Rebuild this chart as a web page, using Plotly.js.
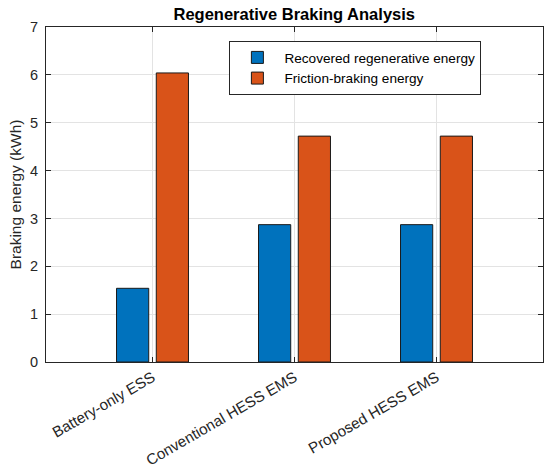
<!DOCTYPE html>
<html>
<head>
<meta charset="utf-8">
<script src="https://cdn.plot.ly/plotly-3.0.1.min.js"></script>
<style>html,body{margin:0;padding:0;background:#fff;}#chart{width:550px;height:473px;}</style>
</head>
<body>
<div id="chart"></div>
<script>
var categories = ["Battery-only ESS", "Conventional HESS EMS", "Proposed HESS EMS"];
var recovered = [1.54, 2.87, 2.87];
var friction = [6.04, 4.72, 4.72];
var seriesNames = ["Recovered regenerative energy", "Friction-braking energy"];
var yTicks = [0, 1, 2, 3, 4, 5, 6, 7];

var font = "Liberation Sans, Arial, Helvetica, sans-serif";
var traces = [
  {type: "bar", x: categories, y: recovered, name: seriesNames[0],
   marker: {color: "#0072BD", line: {color: "#1a1a1a", width: 1}}},
  {type: "bar", x: categories, y: friction, name: seriesNames[1],
   marker: {color: "#D95319", line: {color: "#1a1a1a", width: 1}}}
];
var layout = {
  width: 550, height: 473,
  margin: {l: 46, r: 7, t: 27, b: 111},
  paper_bgcolor: "#fff", plot_bgcolor: "#fff",
  barmode: "group", bargap: 0.44, bargroupgap: 0.19,
  showlegend: true,
  title: {text: "<b>Regenerative Braking Analysis</b>", font: {family: font, size: 16.5, color: "#000"},
          x: 0.535, xanchor: "center", y: 0.97, yanchor: "middle"},
  xaxis: {type: "category", range: [-0.75, 2.75], tickangle: -30, automargin: false,
          showgrid: true, gridcolor: "#e3e3e3", gridwidth: 1,
          ticks: "inside", ticklen: 5, tickcolor: "#262626",
          showline: true, linecolor: "#262626", linewidth: 1, mirror: "ticks",
          tickfont: {family: font, size: 15.2, color: "#262626"}, zeroline: false},
  yaxis: {range: [0, 7], tickvals: yTicks, ticktext: yTicks.map(String), automargin: false,
          showgrid: true, gridcolor: "#e3e3e3", gridwidth: 1,
          ticks: "inside", ticklen: 5, tickcolor: "#262626",
          showline: true, linecolor: "#262626", linewidth: 1, mirror: "ticks",
          ticklabelstandoff: 4,
          tickfont: {family: font, size: 14.5, color: "#262626"}, zeroline: false,
          title: {text: "Braking energy (kWh)", font: {family: font, size: 15.5, color: "#262626"}, standoff: 4}},
  legend: {x: 0.369, y: 0.958, xanchor: "left", yanchor: "top",
           bgcolor: "#fff", bordercolor: "#262626", borderwidth: 1,
           font: {family: font, size: 13.6, color: "#000"}, tracegroupgap: 0,
           itemwidth: 44}
};
Plotly.newPlot("chart", traces, layout, {staticPlot: true, displayModeBar: false});
</script>
</body>
</html>
